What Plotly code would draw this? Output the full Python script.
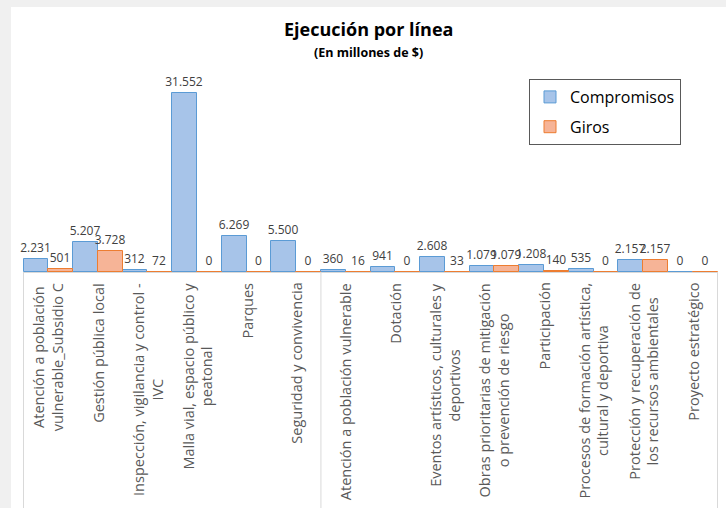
import plotly.graph_objects as go

categories = [
    "Atención a población<br>vulnerable_Subsidio C",
    "Gestión pública local",
    "Inspección, vigilancia y control -<br>IVC",
    "Malla vial, espacio público y<br>peatonal",
    "Parques",
    "Seguridad y convivencia",
    "Atención a población vulnerable",
    "Dotación",
    "Eventos artísticos, culturales y<br>deportivos",
    "Obras prioritarias de mitigación<br>o prevención de riesgo",
    "Participación",
    "Procesos de formación artística,<br>cultural y deportiva",
    "Protección y recuperación de<br>los recursos ambientales",
    "Proyecto estratégico",
]
compromisos = [2231, 5207, 312, 31552, 6269, 5500, 360, 941, 2608, 1079, 1208, 535, 2157, 0]
giros = [501, 3728, 72, 0, 0, 0, 16, 0, 33, 1079, 140, 0, 2157, 0]
group_bounds = [-0.5, 5.5, 13.5]

FONT = "Open Sans"
W, H = 726, 508
ML, MR, MT, MB = 23, 8, 68, 236
PW, PH = W - ML - MR, H - MT - MB

fig = go.Figure()
fig.add_trace(go.Bar(
    name="Compromisos", x=categories, y=compromisos,
    marker=dict(color="#a7c4e9", line=dict(color="#5b9bd5", width=1)),
    texttemplate="%{y:,.0f}", textposition="outside", constraintext="none",
    textfont=dict(size=12, color="#404040", family=FONT), cliponaxis=False,
    legendgroup="a",
))
fig.add_trace(go.Bar(
    name="Giros", x=categories, y=giros,
    marker=dict(color="#f6b497", line=dict(color="#ed7d31", width=1)),
    texttemplate="%{y:,.0f}", textposition="outside", constraintext="none",
    textfont=dict(size=12, color="#404040", family=FONT), cliponaxis=False,
    legendgroup="b",
))

shapes = [dict(
    type="rect", xref="paper", yref="paper", layer="below",
    x0=(11 - ML) / PW, x1=(W - ML + 5) / PW,
    y0=-(MB + 5) / PH, y1=(H - MB - 7) / PH,
    fillcolor="white", line=dict(width=0),
)]
for b in group_bounds:
    shapes.append(dict(type="line", xref="x", yref="paper", x0=b, x1=b,
                       y0=0, y1=-(MB + 5) / PH, line=dict(color="#d9d9d9", width=1)))

annotations = [
    dict(text="<b>Ejecución por línea</b>", xref="paper", yref="paper",
         x=(368 - ML) / PW, y=(H - MB - 29) / PH, xanchor="center", yanchor="middle",
         showarrow=False, font=dict(size=18, color="#000000", family=FONT)),
    dict(text="<b>(En millones de $)</b>", xref="paper", yref="paper",
         x=(368 - ML) / PW, y=(H - MB - 52) / PH, xanchor="center", yanchor="middle",
         showarrow=False, font=dict(size=12.5, color="#000000", family=FONT)),
]
for c in categories:
    annotations.append(dict(
        text=c, x=c, xref="x", y=0, yref="paper", xanchor="center", yanchor="top",
        yshift=-9, textangle=-90, align="center", showarrow=False,
        font=dict(size=14.5, color="#595959", family=FONT),
    ))

fig.update_layout(
    width=W, height=H,
    margin=dict(l=ML, r=MR, t=MT, b=MB, autoexpand=False),
    paper_bgcolor="#f0f0f0", plot_bgcolor="rgba(0,0,0,0)",
    separators=",.",
    barmode="group", bargap=0, bargroupgap=0,
    font=dict(family=FONT, color="#595959"),
    shapes=shapes,
    showlegend=True,
    legend=dict(
        x=(529 - ML) / PW, y=(H - MB - 79) / PH, xanchor="left", yanchor="top",
        bordercolor="#595959", borderwidth=1, bgcolor="white",
        font=dict(size=16, color="#000000", family=FONT),
        traceorder="grouped", tracegroupgap=6, itemwidth=30,
    ),
    annotations=annotations,
)
fig.update_xaxes(
    type="category", showline=True, linecolor="#d9d9d9",
    ticks="", showticklabels=False, showgrid=False,
)
fig.update_yaxes(range=[0, 36000], visible=False, showgrid=False)

fig.write_html("out.html", config={"displayModeBar": False},
               post_script="document.body.style.margin='0';")
